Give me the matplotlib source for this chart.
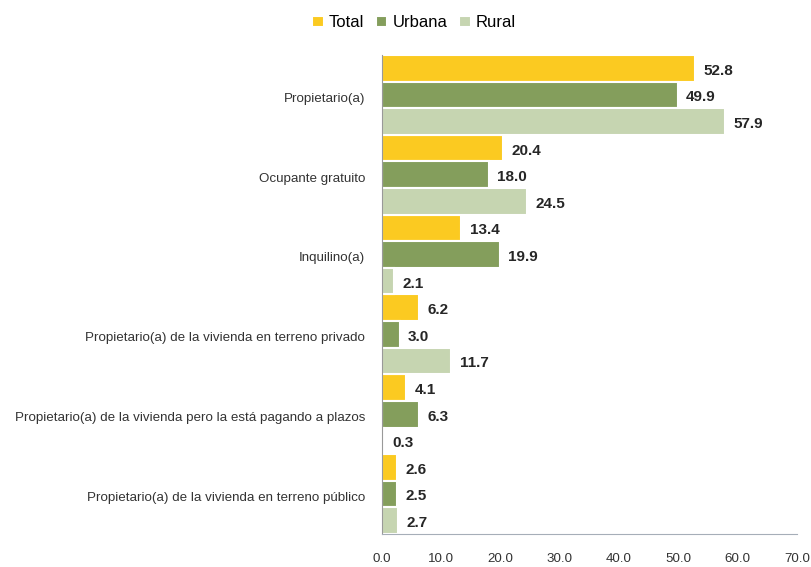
import matplotlib
matplotlib.use("Agg")
import matplotlib.pyplot as plt
import numpy as np

categorias = [
    "Propietario(a)",
    "Ocupante gratuito",
    "Inquilino(a)",
    "Propietario(a) de la vivienda en terreno privado",
    "Propietario(a) de la vivienda pero la está pagando a plazos",
    "Propietario(a) de la vivienda en terreno público",
]
total = [52.8, 20.4, 13.4, 6.2, 4.1, 2.6]
urbana = [49.9, 18.0, 19.9, 3.0, 6.3, 2.5]
rural = [57.9, 24.5, 2.1, 11.7, 0.3, 2.7]
series = ["Total", "Urbana", "Rural"]
colores = ["#FBCA21", "#849E5C", "#C6D5B1"]
ticks = np.arange(0, 71, 10)

plt.rcParams['font.family'] = ['Liberation Sans', 'DejaVu Sans']

fig = plt.figure(figsize=(8.12, 5.67), dpi=100)
ax = fig.add_axes([0.4704, 0.0582, 0.5111, 0.8448])

y = np.arange(len(categorias))
h = 1 / 3
for i, (vals, nombre, c) in enumerate(zip([total, urbana, rural], series, colores)):
    pos = y + (i - 1) * h
    ax.barh(pos, vals, height=h, color=c, edgecolor="white", linewidth=1.5, label=nombre)
    for p, v in zip(pos, vals):
        ax.text(v + 1.4, p + 0.03, f"{v:.1f}", va="center", ha="left",
                fontsize=11, fontweight="bold", color="#262626")

ax.set_ylim(len(categorias) - 0.5, -0.5)
ax.set_xlim(0, 70)
ax.set_xticks(ticks)
ax.set_xticklabels([f"{t:.1f}" for t in ticks])
ax.set_yticks(y + 0.03)
ax.set_yticklabels(categorias)
ax.tick_params(axis="both", length=0, labelsize=9.6, colors="#333333")
ax.tick_params(axis="x", pad=14)
ax.tick_params(axis="y", pad=12)

for s in ["top", "right"]:
    ax.spines[s].set_visible(False)
ax.spines["left"].set_color("#999999")
ax.spines["bottom"].set_color("#A6AEB8")

ax.legend(loc="lower center", bbox_to_anchor=(0.077, 1.02), ncol=3, frameon=False,
          fontsize=12, handlelength=0.7, handleheight=0.7, handletextpad=0.3,
          columnspacing=0.7)

fig.savefig("out.png", dpi=100)
